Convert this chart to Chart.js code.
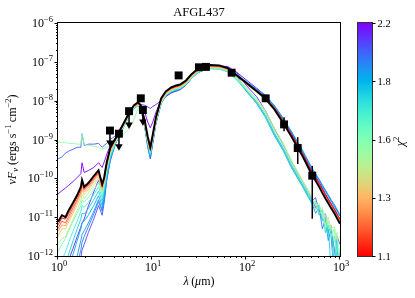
<!DOCTYPE html>
<html><head><meta charset="utf-8">
<script src="https://cdn.jsdelivr.net/npm/chart.js@4/dist/chart.umd.min.js"></script>
<style>html,body{margin:0;padding:0;background:#fff}canvas{display:block}</style>
</head><body>
<canvas id="c" width="415" height="298"></canvas>
<script>
// ---------- DATA ----------
const chartTitle = 'AFGL437';
// wavelength grid of the model SEDs (micron)
const wavelengths = [1.0,1.1,1.2,1.3,1.45,1.6,1.75,1.8,1.9,2.1,2.4,2.7,2.95,3.1,3.3,3.6,4.1,4.8,5.6,6.4,7.1,7.6,8.4,9.0,9.6,10.2,11,12.5,14,16,18,20,23,26,30,35,42,52,64,80,100,130,160,200,250,300,400,500,550,600,650,700,750,800,870,930,1000];
// log10 of nuFnu (erg s^-1 cm^-2), best fit
const bestFitLog = [-11.12,-10.95,-11.0,-10.82,-10.62,-10.43,-10.22,-10.04,-10.22,-10.12,-9.94,-9.79,-10.15,-9.97,-9.58,-9.20,
 -8.97,-8.66,-8.35,-8.12,-8.04,-8.12,-8.53,-8.92,-9.20,-8.86,-8.43,-7.94,-7.76,-7.66,-7.61,-7.58,-7.48,-7.33,-7.20,-7.12,-7.08,-7.09,-7.16,-7.35,
 -7.54,-7.76,-7.94,-8.22,-8.58,-8.90,-9.43,-9.90,-10.06,-10.22,-10.38,-10.52,-10.64,-10.76,-10.90,-11.03,-11.17];
// chi^2 of each plotted model
const modelChi2 = [1.10,1.18,1.27,1.35,1.45,1.55,1.62,1.70,1.76,1.82,1.88,1.93,2.00,2.05,2.12,2.20];
const model01 = [-11.2,-11.02,-11.05,-10.9,-10.68,-10.48,-10.27,-10.1,-10.26,-10.16,-9.98,-9.83,-10.18,-10.0,-9.62,-9.24,
 -8.99,-8.68,-8.37,-8.14,-8.06,-8.14,-8.56,-8.96,-9.24,-8.9,-8.46,-7.97,-7.78,-7.68,-7.63,-7.6,-7.5,-7.35,-7.22,-7.14,-7.1,-7.11,-7.17,-7.35,
 -7.53,-7.74,-7.91,-8.18,-8.53,-8.84,-9.36,-9.82,-9.98,-10.13,-10.28,-10.42,-10.54,-10.65,-10.79,-10.92,-11.05];
const model02 = [-11.3,-11.1,-11.15,-10.98,-10.75,-10.55,-10.33,-10.15,-10.3,-10.2,-10.02,-9.86,-10.22,-10.03,-9.65,-9.26,
 -9.0,-8.69,-8.38,-8.15,-8.07,-8.15,-8.58,-8.98,-9.26,-8.92,-8.47,-7.98,-7.79,-7.69,-7.64,-7.61,-7.51,-7.36,-7.23,-7.15,-7.11,-7.12,-7.18,-7.36,
 -7.55,-7.76,-7.93,-8.2,-8.55,-8.86,-9.38,-9.84,-10.0,-10.15,-10.3,-10.44,-10.56,-10.68,-10.82,-10.95,-11.08];
const model03 = [-11.38,-11.2,-11.22,-11.05,-10.82,-10.6,-10.38,-10.2,-10.35,-10.25,-10.06,-9.9,-10.25,-10.06,-9.68,-9.28,
 -9.01,-8.7,-8.39,-8.16,-8.08,-8.16,-8.6,-9.0,-9.28,-8.94,-8.49,-8.0,-7.8,-7.7,-7.65,-7.62,-7.52,-7.37,-7.24,-7.16,-7.12,-7.13,-7.19,-7.37,
 -7.56,-7.77,-7.95,-8.22,-8.57,-8.88,-9.4,-9.86,-10.02,-10.17,-10.32,-10.46,-10.58,-10.7,-10.84,-10.97,-11.1];
const model04 = [-11.5,-11.3,-11.3,-11.12,-10.9,-10.68,-10.45,-10.28,-10.42,-10.3,-10.1,-9.95,-10.3,-10.1,-9.72,-9.3,
 -9.02,-8.71,-8.4,-8.17,-8.09,-8.17,-8.62,-9.02,-9.3,-8.95,-8.5,-8.02,-7.82,-7.72,-7.67,-7.64,-7.54,-7.39,-7.25,-7.17,-7.13,-7.14,-7.2,-7.38,
 -7.57,-7.79,-7.97,-8.25,-8.6,-8.92,-9.45,-9.92,-10.08,-10.23,-10.38,-10.52,-10.64,-10.76,-10.9,-11.03,-11.16];
const model05 = [-11.7,-11.55,-11.5,-11.3,-11.05,-10.82,-10.58,-10.4,-10.52,-10.38,-10.18,-10.0,-10.35,-10.14,-9.75,-9.33,
 -9.04,-8.72,-8.41,-8.18,-8.1,-8.18,-8.63,-9.04,-9.32,-8.97,-8.52,-8.04,-7.84,-7.74,-7.69,-7.66,-7.56,-7.41,-7.27,-7.19,-7.15,-7.16,-7.22,-7.42,
 -7.65,-7.95,-8.25,-8.7,-9.1,-9.5,-10.05,-10.45,-10.6,-10.8,-10.75,-11.2,-11.0,-11.3,-11.25,-11.6,-11.5];
const model06 = [-9.07,-9.08,-9.08,-9.1,-9.1,-9.12,-9.12,-8.85,-9.12,-9.15,-9.18,-9.2,-9.25,-9.22,-9.2,-9.15,
 -9.05,-8.9,-8.75,-8.5,-8.2,-8.16,-8.58,-8.98,-9.25,-8.9,-8.47,-8.0,-7.82,-7.73,-7.68,-7.65,-7.55,-7.4,-7.26,-7.18,-7.14,-7.15,-7.22,-7.42,
 -7.68,-7.98,-8.3,-8.75,-9.15,-9.55,-10.1,-10.5,-10.7,-10.65,-11.0,-10.9,-11.3,-11.2,-11.6,-11.4,-12.2];
const model07 = [-11.9,-11.7,-11.55,-11.35,-11.1,-10.9,-10.7,-10.55,-10.62,-10.5,-10.3,-10.12,-10.42,-10.2,-9.8,-9.38,
 -9.06,-8.74,-8.43,-8.19,-8.11,-8.19,-8.64,-9.06,-9.35,-8.98,-8.53,-8.05,-7.85,-7.75,-7.7,-7.67,-7.57,-7.42,-7.28,-7.2,-7.16,-7.17,-7.24,-7.44,
 -7.7,-8.0,-8.32,-8.78,-9.18,-9.58,-10.12,-10.55,-10.65,-10.9,-10.85,-11.3,-11.1,-11.5,-11.3,-12.3,-11.8];
const model08 = [-12.4,-12.1,-11.9,-11.65,-11.35,-11.1,-10.85,-10.7,-10.75,-10.62,-10.42,-10.22,-10.5,-10.26,-9.85,-9.42,
 -9.08,-8.75,-8.44,-8.2,-8.12,-8.2,-8.66,-9.08,-9.38,-9.0,-8.55,-8.06,-7.86,-7.76,-7.71,-7.68,-7.58,-7.43,-7.29,-7.21,-7.17,-7.18,-7.25,-7.46,
 -7.72,-8.05,-8.38,-8.85,-9.25,-9.65,-10.18,-10.6,-10.8,-10.7,-11.1,-11.0,-11.5,-11.3,-12.4,-11.6,-12.5];
const model09 = [-12.8,-12.5,-12.2,-11.95,-11.6,-11.3,-11.05,-10.9,-10.92,-10.78,-10.55,-10.33,-10.6,-10.34,-9.9,-9.45,
 -9.1,-8.76,-8.45,-8.21,-8.13,-8.21,-8.68,-9.1,-9.4,-9.02,-8.56,-8.07,-7.87,-7.77,-7.72,-7.69,-7.59,-7.44,-7.3,-7.22,-7.18,-7.19,-7.26,-7.47,
 -7.74,-8.08,-8.42,-8.9,-9.3,-9.7,-10.22,-10.65,-10.6,-10.95,-10.8,-11.4,-11.2,-12.3,-11.5,-11.8,-12.5];
const model10 = [-13.2,-12.9,-12.6,-12.3,-11.95,-11.6,-11.3,-11.15,-11.1,-10.95,-10.7,-10.45,-10.7,-10.42,-9.95,-9.48,
 -9.1,-8.76,-8.44,-8.2,-8.12,-8.2,-8.68,-9.12,-9.42,-9.03,-8.56,-8.06,-7.86,-7.77,-7.72,-7.69,-7.58,-7.43,-7.29,-7.2,-7.16,-7.16,-7.2,-7.36,
 -7.52,-7.72,-7.88,-8.14,-8.48,-8.78,-9.3,-9.75,-9.9,-10.05,-10.2,-10.34,-10.46,-10.58,-10.72,-10.85,-10.98];
const model11 = [-13.5,-13.2,-12.9,-12.6,-12.3,-12.0,-11.6,-11.45,-11.35,-11.15,-10.85,-10.55,-10.8,-10.5,-10.0,-9.5,
 -9.08,-8.74,-8.42,-8.18,-8.1,-8.18,-8.66,-9.14,-9.45,-9.05,-8.55,-8.04,-7.84,-7.76,-7.72,-7.68,-7.56,-7.41,-7.27,-7.18,-7.13,-7.12,-7.16,-7.32,
 -7.5,-7.7,-7.86,-8.12,-8.46,-8.77,-9.28,-9.72,-9.88,-10.02,-10.17,-10.3,-10.42,-10.54,-10.67,-10.8,-10.94];
const model12 = [-14.0,-13.6,-13.3,-13.0,-12.6,-12.2,-11.85,-11.65,-11.5,-11.25,-10.92,-10.6,-10.85,-10.55,-10.02,-9.52,
 -9.06,-8.72,-8.4,-8.17,-8.1,-8.18,-8.68,-9.16,-9.48,-9.08,-8.58,-8.06,-7.85,-7.78,-7.74,-7.7,-7.58,-7.42,-7.28,-7.19,-7.14,-7.13,-7.17,-7.35,
 -7.75,-8.06,-8.4,-8.88,-9.28,-9.68,-10.2,-10.62,-10.9,-10.75,-11.3,-11.05,-11.6,-11.35,-11.8,-12.5,-11.9];
const model13 = [-9.5,-9.45,-9.35,-9.3,-9.25,-9.2,-9.2,-8.85,-9.15,-9.12,-9.12,-9.1,-9.2,-9.15,-9.1,-9.0,
 -8.9,-8.65,-8.4,-8.16,-8.08,-8.16,-8.62,-9.05,-9.35,-8.98,-8.52,-8.03,-7.84,-7.75,-7.71,-7.67,-7.56,-7.41,-7.27,-7.18,-7.13,-7.12,-7.16,-7.33,
 -7.51,-7.71,-7.87,-8.13,-8.47,-8.78,-9.3,-9.74,-9.9,-10.04,-10.19,-10.32,-10.44,-10.56,-10.7,-10.83,-10.97];
const model14 = [-14.0,-13.8,-13.5,-13.2,-12.8,-12.4,-12.05,-11.85,-11.7,-11.4,-11.05,-10.7,-10.95,-10.62,-10.05,-9.55,
 -9.1,-8.75,-8.42,-8.18,-8.1,-8.2,-8.7,-9.2,-9.5,-9.1,-8.6,-8.08,-7.88,-7.8,-7.76,-7.72,-7.6,-7.44,-7.3,-7.21,-7.16,-7.15,-7.19,-7.38,
 -7.73,-8.04,-8.37,-8.84,-9.24,-9.64,-10.16,-10.58,-10.5,-10.85,-11.0,-10.9,-11.4,-11.2,-12.4,-11.5,-11.7];
const model15 = [-13.0,-12.7,-12.4,-12.1,-11.8,-11.5,-11.25,-11.15,-11.05,-10.72,-10.35,-10.05,-10.3,-10.1,-9.7,-9.3,
 -9.0,-8.7,-8.4,-8.18,-8.08,-8.1,-8.12,-8.16,-8.2,-8.15,-8.1,-8.0,-7.9,-7.8,-7.74,-7.7,-7.6,-7.44,-7.3,-7.2,-7.15,-7.13,-7.14,-7.28,
 -7.6,-7.9,-8.25,-8.72,-9.15,-9.55,-10.1,-10.52,-10.75,-10.7,-11.1,-11.0,-11.5,-11.4,-12.5,-11.9,-12.0];
const model16 = [-10.4,-10.32,-10.25,-10.18,-10.08,-9.98,-9.88,-9.6,-9.85,-9.8,-9.72,-9.6,-9.72,-9.58,-9.38,-9.15,
 -8.95,-8.68,-8.4,-8.16,-8.08,-8.12,-8.3,-8.55,-8.7,-8.55,-8.3,-7.98,-7.85,-7.78,-7.73,-7.68,-7.57,-7.42,-7.28,-7.18,-7.13,-7.11,-7.12,-7.27,
 -7.46,-7.68,-7.86,-8.14,-8.5,-8.82,-9.35,-9.8,-9.95,-10.1,-10.25,-10.4,-10.52,-10.64,-10.78,-10.92,-11.05];
const modelsLog = [model01,model02,model03,model04,model05,model06,model07,model08,model09,model10,model11,model12,model13,model14,model15,model16];

// observed photometry (micron, erg s^-1 cm^-2)
const detWave = [7.6, 19.2, 31.6, 37.5, 70.4, 162, 254, 355, 507];
const detFlux = [1.15e-8, 4.47e-8, 7.24e-8, 7.41e-8, 5.25e-8, 1.15e-8, 2.45e-9, 6.03e-10, 1.17e-10];
const limWave = [3.57, 4.45, 5.7, 8.0];
const limFlux = [1.70e-9, 1.41e-9, 5.37e-9, 5.75e-9];
const limArrowEnd = [8.3e-10, 6.6e-10, 2.4e-9, 2.9e-9];
const errWave = [254, 355, 507];
const errLow  = [1.62e-9, 2.34e-10, 9.1e-12];
const errHigh = [3.72e-9, 1.15e-9, 2.09e-10];

// colour bar
const cbTickValues = [1.1, 1.3, 1.6, 1.8, 2.2];
const cbTickLabels = ['1.1', '1.3', '1.6', '1.8', '2.2'];
const xDecades = [0, 1, 2, 3];
const yDecades = [-12, -11, -10, -9, -8, -7, -6];

// ---------- helpers ----------
modelsLog.concat([bestFitLog]).forEach((m, i) => { if (m.length !== wavelengths.length) throw new Error('length mismatch model ' + i + ': ' + m.length); });
function rainbow(x, a) {
  const r = Math.min(1, Math.abs(2 * x - 0.5)), g = Math.sin(Math.PI * x), b = Math.cos(Math.PI * x / 2);
  return `rgba(${Math.round(r*255)},${Math.round(g*255)},${Math.round(b*255)},${a==null?1:a})`;
}
function cbNorm(v) { // evenly spaced ticks on the colour bar
  const n = cbTickValues.length - 1;
  if (v <= cbTickValues[0]) return 0;
  for (let i = 0; i < n; i++) {
    if (v <= cbTickValues[i+1]) return (i + (v - cbTickValues[i]) / (cbTickValues[i+1] - cbTickValues[i])) / n;
  }
  return 1;
}
const FONT = '"Liberation Serif","DejaVu Serif",serif';
function fnt(p) { return `${p.i ? 'italic ' : ''}${p.s}px ${FONT}`; }
function drawRuns(ctx, parts, x, y, align) {
  let w = 0;
  for (const p of parts) { ctx.font = fnt(p); w += ctx.measureText(p.t).width; }
  let cx = align === 'center' ? x - w / 2 : align === 'right' ? x - w : x;
  ctx.textAlign = 'left'; ctx.textBaseline = 'alphabetic';
  for (const p of parts) { ctx.font = fnt(p); ctx.fillText(p.t, cx, y + (p.dy || 0)); cx += ctx.measureText(p.t).width; }
}
const toPts = (xs, ys) => xs.map((x, i) => ({ x, y: ys[i] }));
const fromLog = arr => arr.map(v => Math.pow(10, v));

// ---------- datasets ----------
const datasets = [];
datasets.push({ data: toPts(detWave, detFlux), showLine: false, pointStyle: 'rect', pointRadius: 5.6,
  backgroundColor: '#000', borderColor: '#000', borderWidth: 0, order: 0 });
datasets.push({ data: toPts(limWave, limFlux), showLine: false, pointStyle: 'rect', pointRadius: 5.6,
  backgroundColor: '#000', borderColor: '#000', borderWidth: 0, order: 0 });
datasets.push({ data: toPts(limWave, limArrowEnd), showLine: false, pointStyle: 'triangle', pointRotation: 180, pointRadius: 4.3,
  backgroundColor: '#000', borderColor: '#000', borderWidth: 0, order: 0 });
limWave.forEach((w, i) => datasets.push({ data: [{ x: w, y: limFlux[i] }, { x: w, y: limArrowEnd[i] }], showLine: true,
  borderColor: '#000', borderWidth: 1.5, pointRadius: 0, order: 1 }));
errWave.forEach((w, i) => datasets.push({ data: [{ x: w, y: errLow[i] }, { x: w, y: errHigh[i] }], showLine: true,
  borderColor: '#000', borderWidth: 1.5, pointRadius: 0, order: 1 }));
datasets.push({ data: toPts(wavelengths, fromLog(bestFitLog)), showLine: true, borderColor: '#000', borderWidth: 1.9,
  pointRadius: 0, order: 2 });
modelsLog.forEach((m, i) => datasets.push({ data: toPts(wavelengths, fromLog(m)), showLine: true,
  borderColor: rainbow(1 - cbNorm(modelChi2[i]), 0.9), borderWidth: 1, pointRadius: 0, order: 3 + i }));

// ---------- decorations (frame, ticks, labels, colour bar) ----------
const deco = {
  id: 'deco',
  afterDraw(chart) {
    const { ctx, chartArea: a, scales: { x, y } } = chart;
    ctx.save();
    ctx.fillStyle = '#000'; ctx.strokeStyle = '#000'; ctx.lineWidth = 1;
    ctx.strokeRect(a.left - 0.5, a.top - 0.5, a.right - a.left + 1, a.bottom - a.top + 1);
    ctx.beginPath();
    xDecades.forEach(d => {
      const px = Math.round(x.getPixelForValue(Math.pow(10, d))) - 0.5;
      ctx.moveTo(px, a.bottom); ctx.lineTo(px, a.bottom + 3.5);
      if (d < 3) for (let k = 2; k <= 9; k++) {
        const q = Math.round(x.getPixelForValue(k * Math.pow(10, d))) - 0.5;
        ctx.moveTo(q, a.bottom); ctx.lineTo(q, a.bottom + 2);
      }
    });
    yDecades.forEach(e => {
      const py = Math.round(y.getPixelForValue(Math.pow(10, e))) + 0.5;
      ctx.moveTo(a.left, py); ctx.lineTo(a.left - 3.5, py);
      if (e < -6) for (let k = 2; k <= 9; k++) {
        const q = Math.round(y.getPixelForValue(k * Math.pow(10, e))) + 0.5;
        ctx.moveTo(a.left, q); ctx.lineTo(a.left - 2, q);
      }
    });
    ctx.stroke();
    // tick labels
    xDecades.forEach(d => {
      const px = x.getPixelForValue(Math.pow(10, d));
      drawRuns(ctx, [{ t: '10', s: 12 }, { t: String(d), s: 8.5, dy: -5 }], px + 1, a.bottom + 14.5, 'center');
    });
    yDecades.forEach(e => {
      const py = y.getPixelForValue(Math.pow(10, e));
      drawRuns(ctx, [{ t: '10', s: 12 }, { t: '\u2212' + Math.abs(e), s: 8.5, dy: -5 }], a.left - 5, py + 4, 'right');
    });
    // title & axis titles
    const cx = (a.left + a.right) / 2, cy = (a.top + a.bottom) / 2;
    drawRuns(ctx, [{ t: chartTitle, s: 12.5 }], cx, 16, 'center');
    drawRuns(ctx, [{ t: '\u03bb', i: 1, s: 12 }, { t: '\u2009(', s: 12 }, { t: '\u03bc', i: 1, s: 12 }, { t: 'm)', s: 12 }], cx, 285, 'center');
    ctx.save(); ctx.translate(15.5, cy); ctx.rotate(-Math.PI / 2);
    drawRuns(ctx, [{ t: '\u03bd', i: 1, s: 12 }, { t: 'F', i: 1, s: 12 }, { t: '\u03bd', i: 1, s: 8.5, dy: 2.5 },
      { t: ' (ergs s', s: 12 }, { t: '\u22121', s: 8.5, dy: -5 }, { t: '\u2009cm', s: 12 }, { t: '\u22122', s: 8.5, dy: -5 }, { t: ')', s: 12 }], 0, 0, 'center');
    ctx.restore();
    // colour bar
    const cbL = 358, cbR = 372, cbT = a.top, cbB = a.bottom;
    const grad = ctx.createLinearGradient(0, cbB, 0, cbT);
    for (let i = 0; i <= 64; i++) grad.addColorStop(i / 64, rainbow(1 - i / 64));
    ctx.fillStyle = grad; ctx.fillRect(cbL, cbT, cbR - cbL, cbB - cbT);
    ctx.strokeStyle = '#333'; ctx.lineWidth = 1;
    ctx.strokeRect(cbL - 0.5, cbT - 0.5, cbR - cbL + 1, cbB - cbT + 1);
    ctx.fillStyle = '#000'; ctx.strokeStyle = '#000';
    ctx.beginPath();
    cbTickValues.forEach((v, i) => {
      const py = Math.round(cbB - cbNorm(v) * (cbB - cbT)) + 0.5;
      ctx.moveTo(cbR, py); ctx.lineTo(cbR + 3.5, py);
    });
    ctx.stroke();
    cbTickValues.forEach((v, i) => {
      const py = cbB - cbNorm(v) * (cbB - cbT);
      drawRuns(ctx, [{ t: cbTickLabels[i], s: 10.5 }], cbR + 5.5, py + 3.5, 'left');
    });
    ctx.save(); ctx.translate(404, cy + 2); ctx.rotate(-Math.PI / 2);
    drawRuns(ctx, [{ t: '\u03c7', i: 1, s: 12 }, { t: '2', s: 8.5, dy: -5 }], 0, 0, 'center');
    ctx.restore();
    ctx.restore();
  }
};

new Chart(document.getElementById('c'), {
  type: 'scatter',
  data: { datasets },
  options: {
    responsive: false, animation: false, devicePixelRatio: 1, events: [],
    layout: { padding: { left: 0, right: 75, top: 23, bottom: 0 } },
    plugins: { legend: { display: false }, tooltip: { enabled: false }, title: { display: false } },
    elements: { line: { tension: 0 } },
    scales: {
      x: { type: 'logarithmic', min: 1, max: 1000, position: 'bottom', grid: { display: false }, border: { display: false },
           ticks: { display: false }, afterFit(s) { s.height = 42; } },
      y: { type: 'logarithmic', min: 1e-12, max: 1e-6, position: 'left', grid: { display: false }, border: { display: false },
           ticks: { display: false }, afterFit(s) { s.width = 58; } }
    }
  },
  plugins: [deco]
});
</script>
</body></html>
